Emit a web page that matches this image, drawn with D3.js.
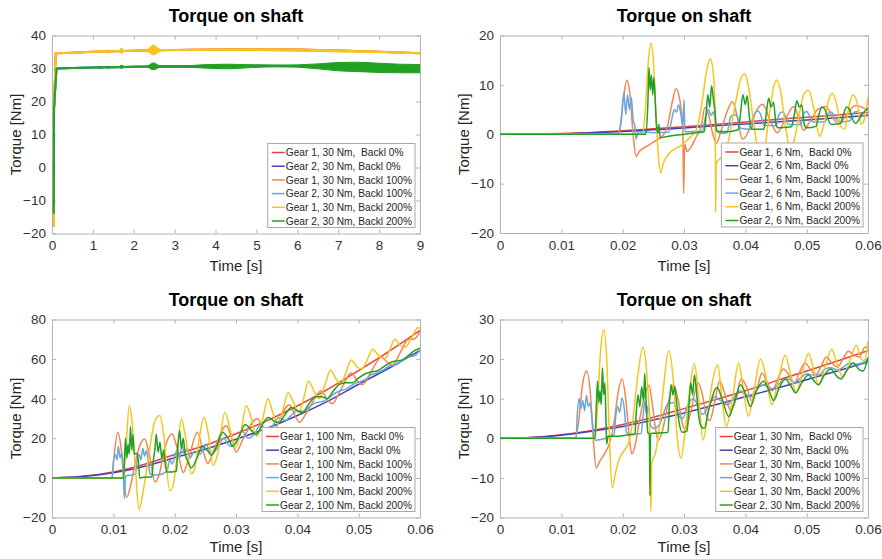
<!DOCTYPE html>
<html>
<head>
<meta charset="utf-8">
<script src="https://cdn.jsdelivr.net/npm/d3@7"></script>
<style>
  body { margin: 0; background: #fff; }
  svg text { font-family: Arial, "Liberation Sans", Helvetica, sans-serif; }
</style>
</head>
<body>
<svg id="chart" width="882" height="559"></svg>
<script>
// ---------- tick values and labels ----------
const slowXTicks = [0, 1, 2, 3, 4, 5, 6, 7, 8, 9];
const slowXLabels = ["0", "1", "2", "3", "4", "5", "6", "7", "8", "9"];
const fastXTicks = [0, 0.01, 0.02, 0.03, 0.04, 0.05, 0.06];
const fastXLabels = ["0", "0.01", "0.02", "0.03", "0.04", "0.05", "0.06"];
const p1YTicks = [-20, -10, 0, 10, 20, 30, 40];
const p2YTicks = [-20, -10, 0, 10, 20];
const p3YTicks = [-20, 0, 20, 40, 60, 80];
const p4YTicks = [-20, -10, 0, 10, 20, 30];

// ---------- legend entries ----------
const p1Names = ["Gear 1, 30 Nm,  Backl 0%", "Gear 2, 30 Nm, Backl 0%", "Gear 1, 30 Nm, Backl 100%", "Gear 2, 30 Nm, Backl 100%", "Gear 1, 30 Nm, Backl 200%", "Gear 2, 30 Nm, Backl 200%"];
const p2Names = ["Gear 1, 6 Nm,  Backl 0%", "Gear 2, 6 Nm, Backl 0%", "Gear 1, 6 Nm, Backl 100%", "Gear 2, 6 Nm, Backl 100%", "Gear 1, 6 Nm, Backl 200%", "Gear 2, 6 Nm, Backl 200%"];
const p3Names = ["Gear 1, 100 Nm,  Backl 0%", "Gear 2, 100 Nm, Backl 0%", "Gear 1, 100 Nm, Backl 100%", "Gear 2, 100 Nm, Backl 100%", "Gear 1, 100 Nm, Backl 200%", "Gear 2, 100 Nm, Backl 200%"];
const p4Names = ["Gear 1, 30 Nm,  Backl 0%", "Gear 2, 30 Nm, Backl 0%", "Gear 1, 30 Nm, Backl 100%", "Gear 2, 30 Nm, Backl 100%", "Gear 1, 30 Nm, Backl 200%", "Gear 2, 30 Nm, Backl 200%"];

// ---------- 30 Nm run over 9 s: [time s, torque Nm] ----------
// at this time scale the three backlash cases of each gear lie on top of each other
const p1Gear1 = [[0.045,-18],[0.05,18],[0.09,34.6],[0.5,34.8],[1,35.05],[1.5,35.25],[2,35.4],[2.5,35.5],[3,35.6],[4,35.75],[5,35.85],[6,35.75],[7,35.45],[8,35.05],[9,34.6]];
const p1Gear2 = [[0.045,-14],[0.05,18],[0.11,30],[0.5,30.15],[1,30.3],[1.5,30.4],[2,30.5],[2.5,30.6],[3,30.6],[4,30.7],[5,30.8],[6,30.75],[7,30.55],[8,30.15],[9,29.9]];
// oscillation envelopes of the 200 % backlash runs: [time s, min, max]
const p1Gear1Envelope = [[0.3,34.7,34.7],[1.1,35.0,35.0],[1.17,34.75,35.35],[1.24,35.05,35.1],[1.3,35.1,35.15],[1.36,34.7,35.65],[1.43,35.15,35.2],[1.62,35.25,35.3],[1.7,34.6,36.2],[1.79,35.3,35.35],[2.3,35.45,35.5],[2.38,34.8,36.2],[2.48,34.1,37.1],[2.58,34.7,36.3],[2.7,35.5,35.6],[3,35.6,35.6],[9,34.6,34.6]];
const p1Gear2Envelope = [[0.11,30,30],[1.1,30.3,30.3],[1.17,30.1,30.6],[1.24,30.3,30.35],[1.3,30.35,30.4],[1.36,30.1,30.7],[1.43,30.4,30.45],[1.62,30.45,30.5],[1.7,30.0,31.0],[1.79,30.5,30.55],[2.3,30.55,30.6],[2.48,29.6,31.7],[2.65,30.4,30.8],[3.2,30.4,30.8],[3.8,30.1,31.2],[4.3,29.9,31.3],[4.9,30.3,31.1],[5.5,30.5,31.0],[6,30.4,31.1],[6.5,29.9,31.4],[7,29.3,31.8],[7.4,29.1,31.9],[8,28.8,31.6],[8.5,28.7,31.3],[9,28.7,31.2]];

// ---------- 6 Nm run, first 60 ms: [time ms, torque Nm] ----------
const p2G1B0 = [[0,0],[10,0.15],[15,0.35],[20,0.7],[25,1.1],[30,1.5],[35,2.0],[40,2.5],[45,3.0],[50,3.45],[55,3.9],[60,4.4]];
const p2G2B0 = [[0,0],[10,0.1],[15,0.3],[20,0.55],[25,0.9],[30,1.25],[35,1.7],[40,2.1],[45,2.5],[50,2.9],[55,3.35],[60,3.8]];
const p2G1B100 = [[0,0],[19,0],[19.5,1],[20.2,8],[20.7,11],[21.2,8],[21.7,0],[22.2,-4.5],[22.7,-3.5],[24,-2.4],[25.5,-1.2],[26.5,-0.3],[27.3,1.5],[28,6],[28.7,9.2],[29.3,7],[29.8,1],[29.95,-12],[30.1,-2],[30.5,-3.5],[31.2,-2.5],[32,-0.5],[32.8,1.5],[33.4,5.4],[34,4],[34.7,0],[35.3,-1.8],[36,0.5],[37,4.5],[37.9,6.6],[38.7,3.5],[39.5,-1],[40.3,0],[41.3,3.5],[42.8,6.1],[44,3],[45.2,0.3],[46.5,3],[47.9,5.6],[48.8,3],[49.5,0.8],[50.5,2.5],[51.8,5],[53.1,5.6],[54.2,3.5],[55.2,2],[56.5,4],[58,5.8],[59,5.5],[60,4.8]];
const p2G2B100 = [[0,0],[19.3,0],[19.8,3],[20.2,8.5],[20.5,4],[20.8,8],[21.1,5],[21.4,7.5],[21.7,3],[22,1.5],[22.2,-1],[22.5,0.5],[25,0.3],[27.5,0.4],[28,3],[28.4,5],[28.8,4.5],[29.1,6],[29.5,4],[29.8,1.5],[30,7],[30.15,0.5],[33,0.6],[33.5,3.5],[34,5],[34.4,3.8],[34.8,4.5],[35.3,1],[35.8,0.2],[37,0.3],[37.6,3.5],[38.2,4],[38.7,3.5],[39.2,1.2],[41,1],[41.5,4],[42,4.7],[42.5,4],[43,1.8],[45,1.7],[45.5,4],[46,4.5],[46.5,3.8],[47,2],[49,2],[49.5,4.2],[50,4.6],[50.5,3.6],[51,2.5],[53,2.5],[53.5,4.2],[54,4.5],[54.6,3.5],[55.3,2.5],[57,2.7],[57.7,4.4],[58.3,4.6],[59,3.8],[60,4]];
const p2G1B200 = [[0,0],[23.2,0],[23.7,5],[24.2,15],[24.6,18.5],[25,15],[25.4,5],[25.8,-4],[26.2,-7.8],[26.6,-6],[27.5,-4],[28.5,-3],[29.5,-2.3],[30.5,-1.2],[31.5,0],[32.3,2],[33,7],[33.7,13],[34.3,15.3],[34.8,12],[35.1,3],[35.15,-15.8],[35.25,-6],[35.8,-5],[36.5,-4.5],[37.3,-1],[38.2,5],[39.2,11],[39.9,12.3],[40.6,9],[41.5,1],[42.4,-5],[43,-4],[43.8,3],[44.6,9.5],[45.1,11],[45.7,9],[46.5,2],[47.3,-3],[48,-1],[48.8,4],[49.5,8],[50.3,8.9],[51.2,5],[52.1,-0.4],[52.8,2],[53.6,7],[54.2,8.3],[54.9,6],[55.6,1.5],[56.2,1],[56.8,5],[57.5,8],[58.2,6.5],[58.9,2],[59.4,3],[60,7.5]];
const p2G2B200 = [[0,0],[23.8,0],[24.1,6],[24.3,13.5],[24.5,9],[24.7,12],[24.9,8],[25.1,11.5],[25.3,7],[25.5,2],[25.7,0.3],[25.9,2],[26.1,-0.7],[27,-0.5],[28,-0.3],[30,0],[32,0.3],[33.3,0.5],[33.6,4],[33.9,8],[34.2,5.5],[34.5,9.8],[34.8,7],[35.1,4],[35.3,0.6],[37,0.5],[38.8,0.9],[39.2,4],[39.6,8],[40,6],[40.3,7.8],[40.7,3],[41,1],[43,1],[43.4,4],[43.8,7.3],[44.2,5.5],[44.6,6.5],[45,2],[45.3,1.3],[47.5,1.5],[48,4],[48.4,6.8],[48.8,5.5],[49.2,6],[49.6,2],[50,1.3],[51.5,1.6],[52,4],[52.5,5.5],[53,5],[53.5,3],[54,2],[55.5,2.2],[56,4],[56.5,5.5],[57,5],[57.5,3],[58,2.2],[59,4],[60,5.3]];

// ---------- 100 Nm run, first 60 ms ----------
const p3G1B0 = [[0,0],[5,0.8],[10,3],[15,6.8],[20,11.8],[25,16.5],[30,22.3],[35,28.8],[40,36.3],[45,44.8],[50,54.2],[55,64],[60,74.5]];
const p3G2B0 = [[0,0],[5,0.7],[10,2.6],[15,5.8],[20,10.2],[25,14.5],[30,19.5],[35,25],[40,31.5],[45,38.8],[50,47.3],[55,55.5],[60,64.4]];
const p3G1B100 = [[0,0],[9.8,0],[10.1,10],[10.7,23],[11.3,14],[11.8,-4],[12.2,-9.8],[12.8,-4],[13.6,8],[14.4,17],[15.1,19.7],[15.8,13],[16.8,-2],[17.5,2],[18.3,14],[19.6,22.2],[20.4,15],[21.4,2.7],[22.3,10],[23.7,23],[24.6,14],[25.4,7.2],[26.5,15],[28.4,26.4],[29.3,20],[30,13],[31.2,20],[33.5,30],[34.5,24],[35.5,19.5],[36.6,26],[38.7,37],[39.7,31],[40.3,28],[41.7,34],[43.9,44],[45,39],[45.7,37.5],[47,44],[48.8,53],[50,48],[50.6,47],[52.1,54],[53.7,61],[54.8,58],[55.5,57],[56.9,64],[58.1,70],[59,70],[60,74]];
const p3G2B100 = [[0,0],[9.8,0],[10,8],[10.3,12],[10.6,9],[10.8,16],[11.1,10],[11.4,13],[11.6,5],[11.8,-10.4],[12,1],[13,1.5],[13.6,2],[13.9,9],[14.2,12],[14.5,9],[14.8,15],[15.1,11],[15.4,14],[15.7,8],[16,2],[17,1.5],[18,2],[18.8,4],[19.2,9],[19.6,7],[20,11],[20.4,14],[20.8,10],[21.2,17],[21.6,12],[22,15],[22.5,10],[23.2,13.5],[24.2,12],[25,17],[26,12.5],[27,15],[28,20],[29,16],[30,18],[31,23.5],[32,20],[33,22],[34,27],[35,24],[36,26.5],[37,30.5],[38,29],[39,31.5],[40,34],[41,33.5],[42,36],[43,38],[44,38.5],[45,40],[46,42.5],[47,44],[48,45],[49,47],[50,48.5],[51,49.5],[52,52],[53,53],[54,54.5],[55,56.5],[56,57],[57,59],[58,61],[59,61.5],[60,64.5]];
const p3G1B200 = [[0,0],[11.6,0],[12,12],[12.6,36.5],[13,30],[13.6,5],[14.2,-16],[14.8,-8],[15.7,10],[16.8,29],[17.6,31.5],[18.2,22],[19.2,-6.5],[19.8,-3],[20.5,15],[21.1,29.8],[21.8,20],[22.7,2],[23.2,4],[24,20],[24.8,30.6],[25.5,22],[26.3,6.4],[27,12],[28.2,33],[29,25],[29.9,15],[30.7,22],[31.7,36.5],[32.5,30],[33.4,21],[34.3,29],[35.2,40],[36,33],[36.8,27.5],[37.7,35],[38.5,43],[39.4,38],[40.2,33],[41.1,41],[41.8,49],[42.7,44],[43.6,40],[44.5,47],[45.4,54.5],[46.3,50],[47.1,47.5],[47.9,53],[48.8,59.5],[49.7,56],[50.5,55],[51.3,59],[52.3,65],[53.2,62],[54.2,60],[55,64],[55.9,70],[56.8,67],[57.6,66],[58.5,70],[59.7,76],[60,75.5]];
const p3G2B200 = [[0,0],[11.7,0],[11.8,8],[12,20],[12.2,10],[12.4,17],[12.6,12],[12.8,26],[13,14],[13.2,22],[13.4,12],[13.8,12.5],[14.1,8],[14.3,0],[15,0.3],[16.3,0.5],[16.5,8],[16.8,15],[17,22],[17.3,13],[17.6,18],[17.9,10],[18.2,14],[18.5,6],[18.8,3],[19.5,3],[20.3,3.5],[20.5,15],[20.8,24],[21.1,15],[21.4,20],[21.7,12],[22.2,8],[22.7,5],[23.5,9],[24.5,16],[25.3,14],[26,11.5],[27,17],[27.8,23],[28.7,20],[29.5,16],[30.5,21],[31.5,27],[32.5,24],[33.3,22],[34.3,27],[35.3,30.5],[36.3,28.5],[37,28],[38,32],[39,35.5],[40,34],[40.8,33],[42,38],[43,41],[44,41],[44.8,40],[46,44.5],[47,47.5],[48,48],[49,48],[50,50.5],[51,52.5],[52,53.5],[53,54],[54,56],[55,58],[56,59],[57,59.5],[58,61.5],[59,64],[60,65.5]];

// ---------- 30 Nm run, first 60 ms ----------
const p4G1B0 = [[0,0],[5,0.2],[10,0.9],[15,2],[20,3.5],[25,5.3],[30,7.5],[35,9.7],[40,12],[45,14.5],[50,17],[55,19.5],[60,22.1]];
const p4G2B0 = [[0,0],[5,0.2],[10,0.8],[15,1.8],[20,3],[25,4.6],[30,6.4],[35,8.4],[40,10.5],[45,12.6],[50,14.8],[55,17],[60,19.3]];
const p4G1B100 = [[0,0],[12.3,0],[12.8,4],[13.5,14],[14.1,17],[14.7,12],[15.2,0],[15.7,-7.5],[16.2,-6],[17,-4],[17.8,-1.5],[18.6,4],[19.3,12],[19.9,15],[20.5,10],[21.1,0],[21.5,-4],[22,-2],[22.8,5],[23.6,11],[24.3,13.4],[24.8,9],[25.3,3],[25.8,-0.5],[26.5,2],[27.3,8],[28.3,13.5],[29,10],[29.7,4],[30.2,2],[31,6],[32.3,14],[33,11],[33.6,6],[34.2,4.5],[35,9],[35.8,14.5],[36.7,11],[37.6,7],[38.5,10],[39.3,15],[40.2,13],[41,9.5],[42,13],[42.7,16.5],[43.6,14],[44.4,12],[45.3,15],[46.2,17.5],[47.1,16],[48,14],[48.8,16.5],[49.7,19],[50.6,17.5],[51.5,16],[52.3,18],[53.2,20.5],[54.1,19],[55,18],[55.9,20],[56.8,22],[57.7,21],[58.6,20.5],[59.5,23],[60,23]];
const p4G2B100 = [[0,0],[12.4,0],[12.6,6],[12.9,10],[13.2,7.5],[13.5,9.5],[13.8,7],[14.1,10.8],[14.4,8],[14.7,9],[15,5],[15.3,1],[15.6,-0.5],[16.5,-0.3],[18,0.5],[18.6,1],[18.9,6],[19.2,8],[19.5,6.5],[19.9,10.2],[20.3,7],[20.6,1.5],[21,1],[23,1.2],[23.3,5],[23.6,9.5],[23.9,6],[24.2,8.5],[24.6,3],[25.2,2.5],[26,3.5],[27.5,9],[28.3,9],[29,6],[29.8,5],[30.5,8],[31.5,10],[32.2,8.5],[33,6],[34,8],[35,10.5],[36,9.5],[37,8.5],[38,10],[39,12],[40,11],[41,10.5],[42,12.5],[43,13.5],[44,12.5],[45,13],[46,14.5],[47,15],[48,14],[49,15.2],[50,16.3],[51,16],[52,16],[53,17.5],[54,17.8],[55,17.2],[56,18],[57,19],[58,18.7],[59,19],[60,19.8]];
const p4G1B200 = [[0,0],[15.5,0],[15.9,8],[16.4,22],[16.9,27.5],[17.4,20],[17.8,2],[18.3,-12.5],[18.8,-9],[19.5,-5],[20.3,-3],[21,-1],[21.7,5],[22.4,15],[23.3,23],[23.9,17],[24.4,2],[24.6,-18.5],[24.75,-6],[25.3,-4],[26,3],[26.6,12],[27.5,22.1],[28.3,14],[28.9,0],[29.5,-5],[30.2,2],[30.9,12],[31.7,18.9],[32.4,10],[33.1,-0.5],[33.8,5],[34.6,14],[35.5,18.5],[36.2,10],[36.9,3],[37.9,10],[38.9,19],[39.7,12],[40.5,5.6],[41.4,12],[42.5,20],[43.3,16],[44.3,8.5],[45.3,14],[46.5,21],[47.4,16],[48.3,11.5],[49.2,16],[50.3,21.5],[51.2,17],[52,13.5],[53,18],[54.1,22.5],[55,18.5],[55.9,15.5],[57,19.5],[58.1,23.5],[58.9,20],[59.4,19.5],[60,24.5]];
const p4G2B200 = [[0,0],[15.5,0],[15.7,8],[15.9,14.5],[16.1,9],[16.3,12],[16.5,8.5],[16.7,17.8],[16.9,11],[17.1,14],[17.3,3],[17.4,-1.5],[17.6,0.5],[19,0.5],[20.5,0.8],[22,1],[22.2,6],[22.5,11],[22.8,8],[23.1,13],[23.4,9.5],[23.6,16.4],[23.8,10],[24.1,1.5],[24.35,1],[24.45,-14.5],[24.55,1.2],[26.5,1.4],[27.4,1.5],[27.6,8],[27.9,13.5],[28.2,11],[28.5,13],[28.8,9],[29.2,4],[29.7,1.5],[30.5,1.8],[30.8,8],[31.1,14],[31.4,11],[31.7,16],[32,12.5],[32.3,7],[32.8,3],[33.3,2.5],[34,7],[35.4,12.8],[36.2,10],[37.3,5.5],[38.2,9],[39.2,13.5],[40.2,10.5],[40.8,8],[41.8,12],[43,14.5],[44,11.5],[44.6,9.5],[45.6,13],[46.5,15],[47.5,13],[48.2,11.5],[49.2,14],[50.3,16],[51.2,14.5],[51.9,13.5],[52.9,16],[53.9,17.5],[55,15.5],[55.6,15],[56.5,17],[57.6,19],[58.6,17.3],[59.2,17],[60,20.5]];

// ---------- styling ----------
const seriesColors = ["#e8413c", "#4343b8", "#f2864f", "#6aa6dc", "#f6c51c", "#22a022"];
const axisColor = "#b4b4b4";
const labelColor = "#333333";

const panels = [
  { left: 52, right: 420, top: 35.5, bottom: 233.5, xDomain: [0, 9], timeDiv: 1,
    xTicks: slowXTicks, xLabels: slowXLabels, yDomain: [-20, 40], yTicks: p1YTicks,
    names: p1Names, series: [p1Gear1, p1Gear2, p1Gear1, p1Gear2, p1Gear1, p1Gear2],
    envelopes: { 4: p1Gear1Envelope, 5: p1Gear2Envelope }, lineWidth: 2, linear: true,
    titleY: 22, xLabelY: 271 },
  { left: 500, right: 868, top: 35.5, bottom: 233, xDomain: [0, 0.06], timeDiv: 1000,
    xTicks: fastXTicks, xLabels: fastXLabels, yDomain: [-20, 20], yTicks: p2YTicks,
    names: p2Names, series: [p2G1B0, p2G2B0, p2G1B100, p2G2B100, p2G1B200, p2G2B200],
    lineWidth: 1.5, titleY: 22, xLabelY: 271 },
  { left: 52, right: 420, top: 319.5, bottom: 517.5, xDomain: [0, 0.06], timeDiv: 1000,
    xTicks: fastXTicks, xLabels: fastXLabels, yDomain: [-20, 80], yTicks: p3YTicks,
    names: p3Names, series: [p3G1B0, p3G2B0, p3G1B100, p3G2B100, p3G1B200, p3G2B200],
    lineWidth: 1.5, titleY: 306, xLabelY: 552 },
  { left: 500, right: 868, top: 319.5, bottom: 517.5, xDomain: [0, 0.06], timeDiv: 1000,
    xTicks: fastXTicks, xLabels: fastXLabels, yDomain: [-20, 30], yTicks: p4YTicks,
    names: p4Names, series: [p4G1B0, p4G2B0, p4G1B100, p4G2B100, p4G1B200, p4G2B200],
    lineWidth: 1.5, titleY: 306, xLabelY: 552 }
];

const svg = d3.select("#chart");

function styleAxis(sel) {
  sel.select(".domain").attr("stroke", axisColor).attr("stroke-width", 1);
  sel.selectAll(".tick line").attr("stroke", axisColor);
  sel.selectAll(".tick text").attr("fill", labelColor).attr("font-size", 13.5)
    .attr("font-family", 'Arial, "Liberation Sans", sans-serif');
}

panels.forEach((p, pi) => {
  const g = svg.append("g");
  const x = d3.scaleLinear().domain(p.xDomain).range([p.left, p.right]);
  const y = d3.scaleLinear().domain(p.yDomain).range([p.bottom, p.top]);

  const clipId = "clip" + pi;
  g.append("clipPath").attr("id", clipId).append("rect")
    .attr("x", p.left).attr("y", p.top).attr("width", p.right - p.left).attr("height", p.bottom - p.top);

  // white plot area
  g.append("rect").attr("x", p.left).attr("y", p.top)
    .attr("width", p.right - p.left).attr("height", p.bottom - p.top).attr("fill", "#fff");

  // axes on all four sides, ticks pointing inward
  const fmt = (d, i) => p.xLabels[i];
  g.append("g").attr("transform", `translate(0,${p.bottom})`)
    .call(d3.axisBottom(x).tickValues(p.xTicks).tickFormat(fmt).tickSize(-4).tickSizeOuter(0).tickPadding(7))
    .call(styleAxis);
  g.append("g").attr("transform", `translate(0,${p.top})`)
    .call(d3.axisTop(x).tickValues(p.xTicks).tickFormat("").tickSize(-4).tickSizeOuter(0))
    .call(styleAxis);
  g.append("g").attr("transform", `translate(${p.left},0)`)
    .call(d3.axisLeft(y).tickValues(p.yTicks).tickFormat(d3.format("d")).tickSize(-4).tickSizeOuter(0).tickPadding(6))
    .call(styleAxis);
  g.append("g").attr("transform", `translate(${p.right},0)`)
    .call(d3.axisRight(y).tickValues(p.yTicks).tickFormat("").tickSize(-4).tickSizeOuter(0))
    .call(styleAxis);

  // data lines
  const plot = g.append("g").attr("clip-path", `url(#${clipId})`);
  const line = d3.line()
    .x(d => x(d[0] / p.timeDiv)).y(d => y(d[1]))
    .curve(p.linear ? d3.curveLinear : d3.curveMonotoneX);
  const area = d3.area()
    .x(d => x(d[0] / p.timeDiv)).y0(d => y(d[1])).y1(d => y(d[2]))
    .curve(d3.curveMonotoneX);

  p.series.forEach((s, i) => {
    if (p.envelopes && p.envelopes[i]) {
      plot.append("path").datum(p.envelopes[i]).attr("d", area)
        .attr("fill", seriesColors[i]).attr("stroke", seriesColors[i]).attr("stroke-width", 1);
    }
    plot.append("path").datum(s).attr("d", line)
      .attr("fill", "none").attr("stroke", seriesColors[i])
      .attr("stroke-width", p.lineWidth).attr("stroke-linejoin", "round");
  });

  // titles and axis labels
  const cx = (p.left + p.right) / 2;
  g.append("text").attr("x", cx).attr("y", p.titleY).attr("text-anchor", "middle")
    .attr("font-size", 18).attr("font-weight", "bold").attr("fill", "#000").text("Torque on shaft");
  g.append("text").attr("x", cx).attr("y", p.xLabelY).attr("text-anchor", "middle")
    .attr("font-size", 15).attr("fill", "#262626").text("Time [s]");
  g.append("text")
    .attr("transform", `translate(${p.left - 31},${(p.top + p.bottom) / 2}) rotate(-90)`)
    .attr("text-anchor", "middle").attr("font-size", 15).attr("fill", "#262626").text("Torque [Nm]");

  // legend in the lower right corner
  const rowH = 13.7, fs = 10.2;
  const lg = g.append("g");
  const box = lg.append("rect").attr("fill", "#fff").attr("stroke", "#a8a8a8").attr("stroke-width", 1);
  const texts = lg.selectAll("text.lab").data(p.names).join("text").attr("class", "lab")
    .attr("font-size", fs).attr("fill", "#262626").style("white-space", "pre").text(d => d);
  const tw = d3.max(texts.nodes(), n => n.getComputedTextLength());
  const boxW = tw + 21, boxH = 84;
  const bx = p.right - 5 - boxW, by = p.bottom - 6 - boxH;
  box.attr("x", bx).attr("y", by).attr("width", boxW).attr("height", boxH);
  texts.attr("x", bx + 18).attr("y", (d, i) => by + 9 + i * rowH + fs * 0.36);
  lg.selectAll("line.key").data(p.names).join("line").attr("class", "key")
    .attr("x1", bx + 4).attr("x2", bx + 17)
    .attr("y1", (d, i) => by + 9 + i * rowH).attr("y2", (d, i) => by + 9 + i * rowH)
    .attr("stroke", (d, i) => seriesColors[i]).attr("stroke-width", 1.5);
});
</script>
</body>
</html>
